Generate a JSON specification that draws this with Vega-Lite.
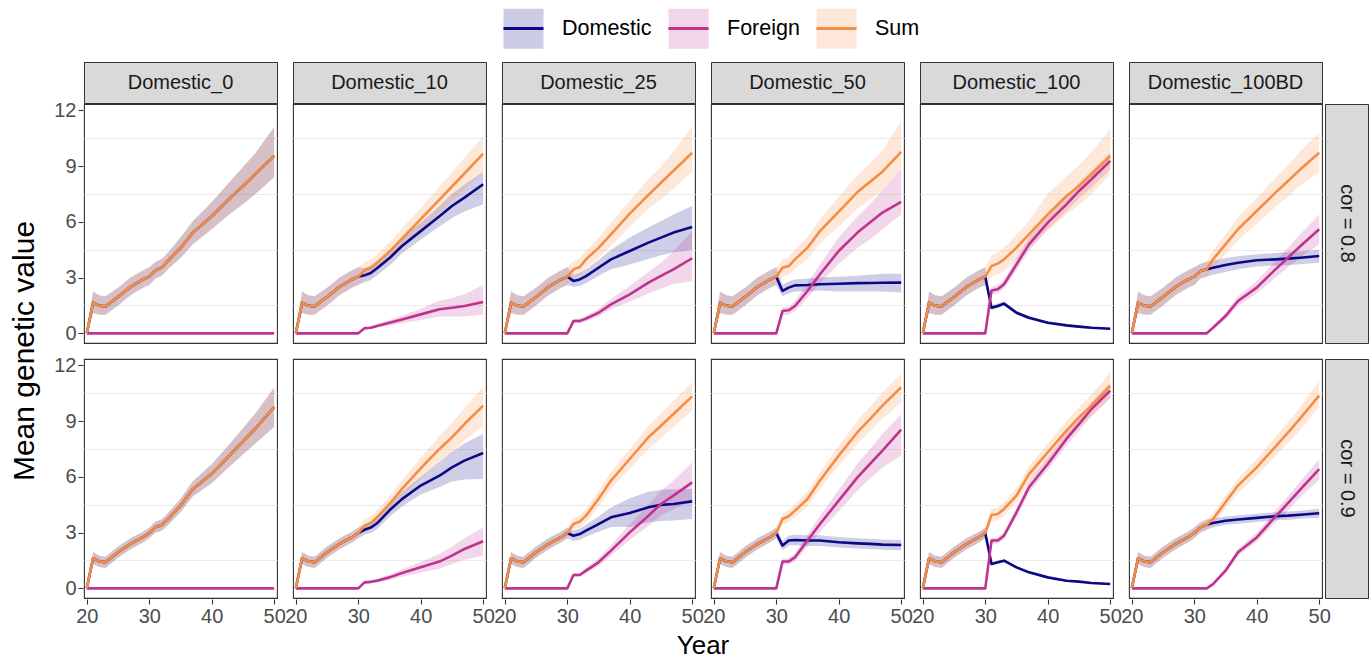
{
"$schema": "https://vega.github.io/schema/vega-lite/v6.json",
"background": "white",
"padding": {"left": 9, "top": 7, "right": 2, "bottom": 0},
"config": {
  "font": "Liberation Sans",
  "view": {"stroke": "#333333", "strokeWidth": 1.1},
  "axis": {"domain": false, "grid": false, "tickColor": "#333333", "tickSize": 5, "tickWidth": 1.1, "labelColor": "#4d4d4d", "labelFontSize": 20, "labelPadding": 2, "title": null}
},
"datasets": {"m": [
{"c":"Domestic_0","r":"cor = 0.8","t":20,"d":0,"dl":0,"dh":0,"f":0,"fl":0,"fh":0,"s":0,"sl":0,"sh":0},
{"c":"Domestic_0","r":"cor = 0.8","t":21,"d":1.65,"dl":1.1,"dh":2.25,"f":0,"fl":0,"fh":0,"s":1.65,"sl":1.1,"sh":2.25},
{"c":"Domestic_0","r":"cor = 0.8","t":22,"d":1.48,"dl":1.0,"dh":2.05,"f":0,"fl":0,"fh":0,"s":1.48,"sl":1.0,"sh":2.05},
{"c":"Domestic_0","r":"cor = 0.8","t":23,"d":1.45,"dl":1.0,"dh":2.0,"f":0,"fl":0,"fh":0,"s":1.45,"sl":1.0,"sh":2.0},
{"c":"Domestic_0","r":"cor = 0.8","t":25,"d":1.96,"dl":1.5,"dh":2.45,"f":0,"fl":0,"fh":0,"s":1.96,"sl":1.5,"sh":2.45},
{"c":"Domestic_0","r":"cor = 0.8","t":27,"d":2.5,"dl":2.05,"dh":3.0,"f":0,"fl":0,"fh":0,"s":2.5,"sl":2.05,"sh":3.0},
{"c":"Domestic_0","r":"cor = 0.8","t":29,"d":2.9,"dl":2.45,"dh":3.4,"f":0,"fl":0,"fh":0,"s":2.9,"sl":2.45,"sh":3.4},
{"c":"Domestic_0","r":"cor = 0.8","t":30,"d":3.05,"dl":2.6,"dh":3.55,"f":0,"fl":0,"fh":0,"s":3.05,"sl":2.6,"sh":3.55},
{"c":"Domestic_0","r":"cor = 0.8","t":31,"d":3.39,"dl":2.95,"dh":3.85,"f":0,"fl":0,"fh":0,"s":3.39,"sl":2.95,"sh":3.85},
{"c":"Domestic_0","r":"cor = 0.8","t":32,"d":3.54,"dl":3.1,"dh":4.0,"f":0,"fl":0,"fh":0,"s":3.54,"sl":3.1,"sh":4.0},
{"c":"Domestic_0","r":"cor = 0.8","t":33,"d":3.9,"dl":3.45,"dh":4.35,"f":0,"fl":0,"fh":0,"s":3.9,"sl":3.45,"sh":4.35},
{"c":"Domestic_0","r":"cor = 0.8","t":35,"d":4.6,"dl":4.05,"dh":5.15,"f":0,"fl":0,"fh":0,"s":4.6,"sl":4.05,"sh":5.15},
{"c":"Domestic_0","r":"cor = 0.8","t":37,"d":5.42,"dl":4.8,"dh":6.05,"f":0,"fl":0,"fh":0,"s":5.42,"sl":4.8,"sh":6.05},
{"c":"Domestic_0","r":"cor = 0.8","t":40,"d":6.3,"dl":5.6,"dh":7.05,"f":0,"fl":0,"fh":0,"s":6.3,"sl":5.6,"sh":7.05},
{"c":"Domestic_0","r":"cor = 0.8","t":43,"d":7.3,"dl":6.45,"dh":8.2,"f":0,"fl":0,"fh":0,"s":7.3,"sl":6.45,"sh":8.2},
{"c":"Domestic_0","r":"cor = 0.8","t":45,"d":7.92,"dl":6.95,"dh":8.95,"f":0,"fl":0,"fh":0,"s":7.92,"sl":6.95,"sh":8.95},
{"c":"Domestic_0","r":"cor = 0.8","t":47,"d":8.58,"dl":7.5,"dh":9.7,"f":0,"fl":0,"fh":0,"s":8.58,"sl":7.5,"sh":9.7},
{"c":"Domestic_0","r":"cor = 0.8","t":50,"d":9.55,"dl":8.4,"dh":11.1,"f":0,"fl":0,"fh":0,"s":9.55,"sl":8.4,"sh":11.1},

{"c":"Domestic_0","r":"cor = 0.9","t":20,"d":0,"dl":0,"dh":0,"f":0,"fl":0,"fh":0,"s":0,"sl":0,"sh":0},
{"c":"Domestic_0","r":"cor = 0.9","t":21,"d":1.62,"dl":1.3,"dh":1.95,"f":0,"fl":0,"fh":0,"s":1.62,"sl":1.3,"sh":1.95},
{"c":"Domestic_0","r":"cor = 0.9","t":22,"d":1.45,"dl":1.15,"dh":1.75,"f":0,"fl":0,"fh":0,"s":1.45,"sl":1.15,"sh":1.75},
{"c":"Domestic_0","r":"cor = 0.9","t":23,"d":1.4,"dl":1.1,"dh":1.7,"f":0,"fl":0,"fh":0,"s":1.4,"sl":1.1,"sh":1.7},
{"c":"Domestic_0","r":"cor = 0.9","t":25,"d":1.94,"dl":1.65,"dh":2.25,"f":0,"fl":0,"fh":0,"s":1.94,"sl":1.65,"sh":2.25},
{"c":"Domestic_0","r":"cor = 0.9","t":27,"d":2.39,"dl":2.1,"dh":2.7,"f":0,"fl":0,"fh":0,"s":2.39,"sl":2.1,"sh":2.7},
{"c":"Domestic_0","r":"cor = 0.9","t":29,"d":2.75,"dl":2.47,"dh":3.05,"f":0,"fl":0,"fh":0,"s":2.75,"sl":2.47,"sh":3.05},
{"c":"Domestic_0","r":"cor = 0.9","t":30,"d":2.98,"dl":2.7,"dh":3.27,"f":0,"fl":0,"fh":0,"s":2.98,"sl":2.7,"sh":3.27},
{"c":"Domestic_0","r":"cor = 0.9","t":31,"d":3.29,"dl":2.99,"dh":3.6,"f":0,"fl":0,"fh":0,"s":3.29,"sl":2.99,"sh":3.6},
{"c":"Domestic_0","r":"cor = 0.9","t":32,"d":3.41,"dl":3.1,"dh":3.72,"f":0,"fl":0,"fh":0,"s":3.41,"sl":3.1,"sh":3.72},
{"c":"Domestic_0","r":"cor = 0.9","t":33,"d":3.73,"dl":3.4,"dh":4.06,"f":0,"fl":0,"fh":0,"s":3.73,"sl":3.4,"sh":4.06},
{"c":"Domestic_0","r":"cor = 0.9","t":35,"d":4.45,"dl":4.1,"dh":4.82,"f":0,"fl":0,"fh":0,"s":4.45,"sl":4.1,"sh":4.82},
{"c":"Domestic_0","r":"cor = 0.9","t":37,"d":5.35,"dl":4.95,"dh":5.77,"f":0,"fl":0,"fh":0,"s":5.35,"sl":4.95,"sh":5.77},
{"c":"Domestic_0","r":"cor = 0.9","t":40,"d":6.16,"dl":5.66,"dh":6.68,"f":0,"fl":0,"fh":0,"s":6.16,"sl":5.66,"sh":6.68},
{"c":"Domestic_0","r":"cor = 0.9","t":43,"d":7.2,"dl":6.6,"dh":7.82,"f":0,"fl":0,"fh":0,"s":7.2,"sl":6.6,"sh":7.82},
{"c":"Domestic_0","r":"cor = 0.9","t":45,"d":7.9,"dl":7.2,"dh":8.62,"f":0,"fl":0,"fh":0,"s":7.9,"sl":7.2,"sh":8.62},
{"c":"Domestic_0","r":"cor = 0.9","t":47,"d":8.6,"dl":7.8,"dh":9.42,"f":0,"fl":0,"fh":0,"s":8.6,"sl":7.8,"sh":9.42},
{"c":"Domestic_0","r":"cor = 0.9","t":50,"d":9.75,"dl":8.7,"dh":10.8,"f":0,"fl":0,"fh":0,"s":9.75,"sl":8.7,"sh":10.8},

{"c":"Domestic_10","r":"cor = 0.8","t":20,"d":0,"dl":0,"dh":0,"f":0,"fl":0,"fh":0,"s":0,"sl":0,"sh":0},
{"c":"Domestic_10","r":"cor = 0.8","t":21,"d":1.65,"dl":1.1,"dh":2.25,"f":0,"fl":0,"fh":0,"s":1.65,"sl":1.1,"sh":2.25},
{"c":"Domestic_10","r":"cor = 0.8","t":22,"d":1.48,"dl":1.0,"dh":2.05,"f":0,"fl":0,"fh":0,"s":1.48,"sl":1.0,"sh":2.05},
{"c":"Domestic_10","r":"cor = 0.8","t":23,"d":1.45,"dl":1.0,"dh":2.0,"f":0,"fl":0,"fh":0,"s":1.45,"sl":1.0,"sh":2.0},
{"c":"Domestic_10","r":"cor = 0.8","t":25,"d":1.96,"dl":1.5,"dh":2.45,"f":0,"fl":0,"fh":0,"s":1.96,"sl":1.5,"sh":2.45},
{"c":"Domestic_10","r":"cor = 0.8","t":27,"d":2.5,"dl":2.05,"dh":3.0,"f":0,"fl":0,"fh":0,"s":2.5,"sl":2.05,"sh":3.0},
{"c":"Domestic_10","r":"cor = 0.8","t":29,"d":2.9,"dl":2.45,"dh":3.4,"f":0,"fl":0,"fh":0,"s":2.9,"sl":2.45,"sh":3.4},
{"c":"Domestic_10","r":"cor = 0.8","t":30,"d":3.05,"dl":2.6,"dh":3.55,"f":0,"fl":0,"fh":0,"s":3.05,"sl":2.6,"sh":3.55},
{"c":"Domestic_10","r":"cor = 0.8","t":31,"d":3.12,"dl":2.75,"dh":3.5,"f":0.27,"fl":0.2,"fh":0.35,"s":3.39,"sl":2.95,"sh":3.85},
{"c":"Domestic_10","r":"cor = 0.8","t":32,"d":3.25,"dl":2.87,"dh":3.65,"f":0.3,"fl":0.22,"fh":0.38,"s":3.52,"sl":3.07,"sh":3.97},
{"c":"Domestic_10","r":"cor = 0.8","t":33,"d":3.5,"dl":3.12,"dh":3.88,"f":0.4,"fl":0.3,"fh":0.5,"s":3.8,"sl":3.35,"sh":4.25},
{"c":"Domestic_10","r":"cor = 0.8","t":35,"d":4.05,"dl":3.65,"dh":4.45,"f":0.57,"fl":0.42,"fh":0.72,"s":4.4,"sl":3.9,"sh":4.9},
{"c":"Domestic_10","r":"cor = 0.8","t":37,"d":4.7,"dl":4.3,"dh":5.15,"f":0.75,"fl":0.55,"fh":0.95,"s":5.1,"sl":4.55,"sh":5.65},
{"c":"Domestic_10","r":"cor = 0.8","t":40,"d":5.5,"dl":5.05,"dh":5.95,"f":1.02,"fl":0.72,"fh":1.32,"s":6.15,"sl":5.55,"sh":6.75},
{"c":"Domestic_10","r":"cor = 0.8","t":43,"d":6.3,"dl":5.75,"dh":6.85,"f":1.3,"fl":0.9,"fh":1.75,"s":7.2,"sl":6.5,"sh":7.9},
{"c":"Domestic_10","r":"cor = 0.8","t":45,"d":6.85,"dl":6.2,"dh":7.5,"f":1.38,"fl":0.9,"fh":1.9,"s":7.9,"sl":7.1,"sh":8.65},
{"c":"Domestic_10","r":"cor = 0.8","t":47,"d":7.3,"dl":6.55,"dh":8.0,"f":1.47,"fl":0.9,"fh":2.1,"s":8.6,"sl":7.75,"sh":9.45},
{"c":"Domestic_10","r":"cor = 0.8","t":50,"d":8.02,"dl":6.95,"dh":8.7,"f":1.69,"fl":1.0,"fh":2.6,"s":9.67,"sl":8.7,"sh":10.6},

{"c":"Domestic_10","r":"cor = 0.9","t":20,"d":0,"dl":0,"dh":0,"f":0,"fl":0,"fh":0,"s":0,"sl":0,"sh":0},
{"c":"Domestic_10","r":"cor = 0.9","t":21,"d":1.62,"dl":1.3,"dh":1.95,"f":0,"fl":0,"fh":0,"s":1.62,"sl":1.3,"sh":1.95},
{"c":"Domestic_10","r":"cor = 0.9","t":22,"d":1.45,"dl":1.15,"dh":1.75,"f":0,"fl":0,"fh":0,"s":1.45,"sl":1.15,"sh":1.75},
{"c":"Domestic_10","r":"cor = 0.9","t":23,"d":1.4,"dl":1.1,"dh":1.7,"f":0,"fl":0,"fh":0,"s":1.4,"sl":1.1,"sh":1.7},
{"c":"Domestic_10","r":"cor = 0.9","t":25,"d":1.94,"dl":1.65,"dh":2.25,"f":0,"fl":0,"fh":0,"s":1.94,"sl":1.65,"sh":2.25},
{"c":"Domestic_10","r":"cor = 0.9","t":27,"d":2.39,"dl":2.1,"dh":2.7,"f":0,"fl":0,"fh":0,"s":2.39,"sl":2.1,"sh":2.7},
{"c":"Domestic_10","r":"cor = 0.9","t":29,"d":2.75,"dl":2.47,"dh":3.05,"f":0,"fl":0,"fh":0,"s":2.75,"sl":2.47,"sh":3.05},
{"c":"Domestic_10","r":"cor = 0.9","t":30,"d":2.98,"dl":2.7,"dh":3.27,"f":0,"fl":0,"fh":0,"s":2.98,"sl":2.7,"sh":3.27},
{"c":"Domestic_10","r":"cor = 0.9","t":31,"d":3.15,"dl":2.88,"dh":3.42,"f":0.32,"fl":0.25,"fh":0.39,"s":3.37,"sl":3.05,"sh":3.7},
{"c":"Domestic_10","r":"cor = 0.9","t":32,"d":3.27,"dl":2.98,"dh":3.56,"f":0.35,"fl":0.27,"fh":0.43,"s":3.52,"sl":3.18,"sh":3.86},
{"c":"Domestic_10","r":"cor = 0.9","t":33,"d":3.5,"dl":3.18,"dh":3.82,"f":0.41,"fl":0.31,"fh":0.51,"s":3.82,"sl":3.45,"sh":4.2},
{"c":"Domestic_10","r":"cor = 0.9","t":35,"d":4.2,"dl":3.85,"dh":4.55,"f":0.59,"fl":0.45,"fh":0.73,"s":4.54,"sl":4.12,"sh":4.96},
{"c":"Domestic_10","r":"cor = 0.9","t":37,"d":4.8,"dl":4.4,"dh":5.2,"f":0.83,"fl":0.63,"fh":1.03,"s":5.35,"sl":4.88,"sh":5.82},
{"c":"Domestic_10","r":"cor = 0.9","t":40,"d":5.53,"dl":5.05,"dh":6.0,"f":1.13,"fl":0.85,"fh":1.42,"s":6.46,"sl":5.9,"sh":7.02},
{"c":"Domestic_10","r":"cor = 0.9","t":43,"d":6.06,"dl":5.45,"dh":6.8,"f":1.44,"fl":1.05,"fh":1.85,"s":7.5,"sl":6.8,"sh":8.2},
{"c":"Domestic_10","r":"cor = 0.9","t":45,"d":6.51,"dl":5.75,"dh":7.35,"f":1.76,"fl":1.3,"fh":2.25,"s":8.13,"sl":7.35,"sh":8.9},
{"c":"Domestic_10","r":"cor = 0.9","t":47,"d":6.87,"dl":5.85,"dh":7.8,"f":2.12,"fl":1.55,"fh":2.7,"s":8.84,"sl":7.95,"sh":9.7},
{"c":"Domestic_10","r":"cor = 0.9","t":50,"d":7.28,"dl":5.88,"dh":8.3,"f":2.53,"fl":1.76,"fh":3.28,"s":9.83,"sl":8.75,"sh":10.82},

{"c":"Domestic_25","r":"cor = 0.8","t":20,"d":0,"dl":0,"dh":0,"f":0,"fl":0,"fh":0,"s":0,"sl":0,"sh":0},
{"c":"Domestic_25","r":"cor = 0.8","t":21,"d":1.65,"dl":1.1,"dh":2.25,"f":0,"fl":0,"fh":0,"s":1.65,"sl":1.1,"sh":2.25},
{"c":"Domestic_25","r":"cor = 0.8","t":22,"d":1.48,"dl":1.0,"dh":2.05,"f":0,"fl":0,"fh":0,"s":1.48,"sl":1.0,"sh":2.05},
{"c":"Domestic_25","r":"cor = 0.8","t":23,"d":1.45,"dl":1.0,"dh":2.0,"f":0,"fl":0,"fh":0,"s":1.45,"sl":1.0,"sh":2.0},
{"c":"Domestic_25","r":"cor = 0.8","t":25,"d":1.96,"dl":1.5,"dh":2.45,"f":0,"fl":0,"fh":0,"s":1.96,"sl":1.5,"sh":2.45},
{"c":"Domestic_25","r":"cor = 0.8","t":27,"d":2.5,"dl":2.05,"dh":3.0,"f":0,"fl":0,"fh":0,"s":2.5,"sl":2.05,"sh":3.0},
{"c":"Domestic_25","r":"cor = 0.8","t":29,"d":2.9,"dl":2.45,"dh":3.4,"f":0,"fl":0,"fh":0,"s":2.9,"sl":2.45,"sh":3.4},
{"c":"Domestic_25","r":"cor = 0.8","t":30,"d":3.05,"dl":2.6,"dh":3.55,"f":0,"fl":0,"fh":0,"s":3.05,"sl":2.6,"sh":3.55},
{"c":"Domestic_25","r":"cor = 0.8","t":31,"d":2.82,"dl":2.5,"dh":3.15,"f":0.66,"fl":0.55,"fh":0.77,"s":3.44,"sl":3.0,"sh":3.9},
{"c":"Domestic_25","r":"cor = 0.8","t":32,"d":2.9,"dl":2.55,"dh":3.25,"f":0.66,"fl":0.55,"fh":0.78,"s":3.57,"sl":3.1,"sh":4.05},
{"c":"Domestic_25","r":"cor = 0.8","t":33,"d":3.08,"dl":2.7,"dh":3.45,"f":0.79,"fl":0.65,"fh":0.93,"s":3.98,"sl":3.5,"sh":4.45},
{"c":"Domestic_25","r":"cor = 0.8","t":35,"d":3.53,"dl":3.1,"dh":3.95,"f":1.11,"fl":0.9,"fh":1.32,"s":4.6,"sl":4.05,"sh":5.15},
{"c":"Domestic_25","r":"cor = 0.8","t":37,"d":3.98,"dl":3.45,"dh":4.5,"f":1.56,"fl":1.3,"fh":1.85,"s":5.33,"sl":4.7,"sh":5.95},
{"c":"Domestic_25","r":"cor = 0.8","t":40,"d":4.43,"dl":3.7,"dh":5.15,"f":2.1,"fl":1.7,"fh":2.55,"s":6.44,"sl":5.75,"sh":7.15},
{"c":"Domestic_25","r":"cor = 0.8","t":43,"d":4.88,"dl":4.0,"dh":5.7,"f":2.73,"fl":2.15,"fh":3.3,"s":7.45,"sl":6.7,"sh":8.3},
{"c":"Domestic_25","r":"cor = 0.8","t":45,"d":5.15,"dl":4.2,"dh":6.05,"f":3.09,"fl":2.4,"fh":3.8,"s":8.1,"sl":7.2,"sh":8.95},
{"c":"Domestic_25","r":"cor = 0.8","t":47,"d":5.42,"dl":4.35,"dh":6.4,"f":3.44,"fl":2.65,"fh":4.4,"s":8.75,"sl":7.8,"sh":9.8},
{"c":"Domestic_25","r":"cor = 0.8","t":50,"d":5.72,"dl":4.5,"dh":6.85,"f":4.04,"fl":2.8,"fh":5.5,"s":9.72,"sl":8.7,"sh":11.16},

{"c":"Domestic_25","r":"cor = 0.9","t":20,"d":0,"dl":0,"dh":0,"f":0,"fl":0,"fh":0,"s":0,"sl":0,"sh":0},
{"c":"Domestic_25","r":"cor = 0.9","t":21,"d":1.62,"dl":1.3,"dh":1.95,"f":0,"fl":0,"fh":0,"s":1.62,"sl":1.3,"sh":1.95},
{"c":"Domestic_25","r":"cor = 0.9","t":22,"d":1.45,"dl":1.15,"dh":1.75,"f":0,"fl":0,"fh":0,"s":1.45,"sl":1.15,"sh":1.75},
{"c":"Domestic_25","r":"cor = 0.9","t":23,"d":1.4,"dl":1.1,"dh":1.7,"f":0,"fl":0,"fh":0,"s":1.4,"sl":1.1,"sh":1.7},
{"c":"Domestic_25","r":"cor = 0.9","t":25,"d":1.94,"dl":1.65,"dh":2.25,"f":0,"fl":0,"fh":0,"s":1.94,"sl":1.65,"sh":2.25},
{"c":"Domestic_25","r":"cor = 0.9","t":27,"d":2.39,"dl":2.1,"dh":2.7,"f":0,"fl":0,"fh":0,"s":2.39,"sl":2.1,"sh":2.7},
{"c":"Domestic_25","r":"cor = 0.9","t":29,"d":2.75,"dl":2.47,"dh":3.05,"f":0,"fl":0,"fh":0,"s":2.75,"sl":2.47,"sh":3.05},
{"c":"Domestic_25","r":"cor = 0.9","t":30,"d":2.98,"dl":2.7,"dh":3.27,"f":0,"fl":0,"fh":0,"s":2.98,"sl":2.7,"sh":3.27},
{"c":"Domestic_25","r":"cor = 0.9","t":31,"d":2.83,"dl":2.55,"dh":3.1,"f":0.72,"fl":0.62,"fh":0.82,"s":3.46,"sl":3.15,"sh":3.78},
{"c":"Domestic_25","r":"cor = 0.9","t":32,"d":2.92,"dl":2.62,"dh":3.22,"f":0.72,"fl":0.62,"fh":0.83,"s":3.59,"sl":3.26,"sh":3.92},
{"c":"Domestic_25","r":"cor = 0.9","t":33,"d":3.1,"dl":2.78,"dh":3.42,"f":0.95,"fl":0.82,"fh":1.08,"s":3.91,"sl":3.55,"sh":4.27},
{"c":"Domestic_25","r":"cor = 0.9","t":35,"d":3.46,"dl":3.05,"dh":3.87,"f":1.4,"fl":1.2,"fh":1.6,"s":4.81,"sl":4.4,"sh":5.22},
{"c":"Domestic_25","r":"cor = 0.9","t":37,"d":3.82,"dl":3.3,"dh":4.35,"f":2.03,"fl":1.75,"fh":2.32,"s":5.8,"sl":5.33,"sh":6.27},
{"c":"Domestic_25","r":"cor = 0.9","t":40,"d":4.05,"dl":3.3,"dh":4.85,"f":3.01,"fl":2.6,"fh":3.45,"s":6.96,"sl":6.43,"sh":7.5},
{"c":"Domestic_25","r":"cor = 0.9","t":43,"d":4.36,"dl":3.55,"dh":5.2,"f":3.91,"fl":3.35,"fh":4.5,"s":8.13,"sl":7.5,"sh":8.75},
{"c":"Domestic_25","r":"cor = 0.9","t":45,"d":4.49,"dl":3.62,"dh":5.3,"f":4.54,"fl":3.9,"fh":5.25,"s":8.75,"sl":8.08,"sh":9.42},
{"c":"Domestic_25","r":"cor = 0.9","t":47,"d":4.54,"dl":3.65,"dh":5.33,"f":4.99,"fl":4.25,"fh":5.8,"s":9.38,"sl":8.68,"sh":10.08},
{"c":"Domestic_25","r":"cor = 0.9","t":50,"d":4.68,"dl":3.73,"dh":5.35,"f":5.7,"fl":4.72,"fh":6.78,"s":10.33,"sl":9.56,"sh":11.09},

{"c":"Domestic_50","r":"cor = 0.8","t":20,"d":0,"dl":0,"dh":0,"f":0,"fl":0,"fh":0,"s":0,"sl":0,"sh":0},
{"c":"Domestic_50","r":"cor = 0.8","t":21,"d":1.65,"dl":1.1,"dh":2.25,"f":0,"fl":0,"fh":0,"s":1.65,"sl":1.1,"sh":2.25},
{"c":"Domestic_50","r":"cor = 0.8","t":22,"d":1.48,"dl":1.0,"dh":2.05,"f":0,"fl":0,"fh":0,"s":1.48,"sl":1.0,"sh":2.05},
{"c":"Domestic_50","r":"cor = 0.8","t":23,"d":1.45,"dl":1.0,"dh":2.0,"f":0,"fl":0,"fh":0,"s":1.45,"sl":1.0,"sh":2.0},
{"c":"Domestic_50","r":"cor = 0.8","t":25,"d":1.96,"dl":1.5,"dh":2.45,"f":0,"fl":0,"fh":0,"s":1.96,"sl":1.5,"sh":2.45},
{"c":"Domestic_50","r":"cor = 0.8","t":27,"d":2.5,"dl":2.05,"dh":3.0,"f":0,"fl":0,"fh":0,"s":2.5,"sl":2.05,"sh":3.0},
{"c":"Domestic_50","r":"cor = 0.8","t":29,"d":2.9,"dl":2.45,"dh":3.4,"f":0,"fl":0,"fh":0,"s":2.9,"sl":2.45,"sh":3.4},
{"c":"Domestic_50","r":"cor = 0.8","t":30,"d":3.05,"dl":2.6,"dh":3.55,"f":0,"fl":0,"fh":0,"s":3.05,"sl":2.6,"sh":3.55},
{"c":"Domestic_50","r":"cor = 0.8","t":31,"d":2.28,"dl":2.0,"dh":2.6,"f":1.2,"fl":1.0,"fh":1.4,"s":3.53,"sl":3.05,"sh":4.0},
{"c":"Domestic_50","r":"cor = 0.8","t":32,"d":2.46,"dl":2.15,"dh":2.8,"f":1.24,"fl":1.0,"fh":1.45,"s":3.62,"sl":3.15,"sh":4.1},
{"c":"Domestic_50","r":"cor = 0.8","t":33,"d":2.58,"dl":2.25,"dh":2.9,"f":1.47,"fl":1.2,"fh":1.75,"s":3.98,"sl":3.45,"sh":4.5},
{"c":"Domestic_50","r":"cor = 0.8","t":35,"d":2.6,"dl":2.25,"dh":2.95,"f":2.28,"fl":1.9,"fh":2.7,"s":4.61,"sl":4.0,"sh":5.2},
{"c":"Domestic_50","r":"cor = 0.8","t":37,"d":2.64,"dl":2.3,"dh":3.0,"f":3.18,"fl":2.7,"fh":3.7,"s":5.5,"sl":4.85,"sh":6.15},
{"c":"Domestic_50","r":"cor = 0.8","t":40,"d":2.67,"dl":2.25,"dh":3.05,"f":4.43,"fl":3.75,"fh":5.15,"s":6.55,"sl":5.75,"sh":7.35},
{"c":"Domestic_50","r":"cor = 0.8","t":43,"d":2.7,"dl":2.25,"dh":3.1,"f":5.42,"fl":4.6,"fh":6.3,"s":7.6,"sl":6.7,"sh":8.5},
{"c":"Domestic_50","r":"cor = 0.8","t":45,"d":2.71,"dl":2.25,"dh":3.15,"f":5.96,"fl":5.05,"fh":6.95,"s":8.15,"sl":7.2,"sh":9.15},
{"c":"Domestic_50","r":"cor = 0.8","t":47,"d":2.72,"dl":2.25,"dh":3.2,"f":6.5,"fl":5.6,"fh":7.7,"s":8.7,"sl":7.7,"sh":9.85},
{"c":"Domestic_50","r":"cor = 0.8","t":50,"d":2.73,"dl":2.2,"dh":3.2,"f":7.07,"fl":6.4,"fh":8.83,"s":9.76,"sl":8.83,"sh":11.43},

{"c":"Domestic_50","r":"cor = 0.9","t":20,"d":0,"dl":0,"dh":0,"f":0,"fl":0,"fh":0,"s":0,"sl":0,"sh":0},
{"c":"Domestic_50","r":"cor = 0.9","t":21,"d":1.62,"dl":1.3,"dh":1.95,"f":0,"fl":0,"fh":0,"s":1.62,"sl":1.3,"sh":1.95},
{"c":"Domestic_50","r":"cor = 0.9","t":22,"d":1.45,"dl":1.15,"dh":1.75,"f":0,"fl":0,"fh":0,"s":1.45,"sl":1.15,"sh":1.75},
{"c":"Domestic_50","r":"cor = 0.9","t":23,"d":1.4,"dl":1.1,"dh":1.7,"f":0,"fl":0,"fh":0,"s":1.4,"sl":1.1,"sh":1.7},
{"c":"Domestic_50","r":"cor = 0.9","t":25,"d":1.94,"dl":1.65,"dh":2.25,"f":0,"fl":0,"fh":0,"s":1.94,"sl":1.65,"sh":2.25},
{"c":"Domestic_50","r":"cor = 0.9","t":27,"d":2.39,"dl":2.1,"dh":2.7,"f":0,"fl":0,"fh":0,"s":2.39,"sl":2.1,"sh":2.7},
{"c":"Domestic_50","r":"cor = 0.9","t":29,"d":2.75,"dl":2.47,"dh":3.05,"f":0,"fl":0,"fh":0,"s":2.75,"sl":2.47,"sh":3.05},
{"c":"Domestic_50","r":"cor = 0.9","t":30,"d":2.98,"dl":2.7,"dh":3.27,"f":0,"fl":0,"fh":0,"s":2.98,"sl":2.7,"sh":3.27},
{"c":"Domestic_50","r":"cor = 0.9","t":31,"d":2.3,"dl":2.05,"dh":2.55,"f":1.44,"fl":1.28,"fh":1.6,"s":3.73,"sl":3.42,"sh":4.04},
{"c":"Domestic_50","r":"cor = 0.9","t":32,"d":2.57,"dl":2.3,"dh":2.84,"f":1.45,"fl":1.28,"fh":1.62,"s":3.88,"sl":3.55,"sh":4.21},
{"c":"Domestic_50","r":"cor = 0.9","t":33,"d":2.6,"dl":2.32,"dh":2.88,"f":1.67,"fl":1.46,"fh":1.88,"s":4.18,"sl":3.83,"sh":4.53},
{"c":"Domestic_50","r":"cor = 0.9","t":35,"d":2.57,"dl":2.28,"dh":2.86,"f":2.57,"fl":2.25,"fh":2.9,"s":4.81,"sl":4.42,"sh":5.2},
{"c":"Domestic_50","r":"cor = 0.9","t":37,"d":2.57,"dl":2.28,"dh":2.86,"f":3.46,"fl":3.05,"fh":3.9,"s":5.8,"sl":5.35,"sh":6.25},
{"c":"Domestic_50","r":"cor = 0.9","t":40,"d":2.48,"dl":2.2,"dh":2.76,"f":4.72,"fl":4.15,"fh":5.3,"s":7.14,"sl":6.6,"sh":7.68},
{"c":"Domestic_50","r":"cor = 0.9","t":43,"d":2.42,"dl":2.14,"dh":2.7,"f":5.97,"fl":5.25,"fh":6.7,"s":8.4,"sl":7.78,"sh":9.02},
{"c":"Domestic_50","r":"cor = 0.9","t":45,"d":2.39,"dl":2.11,"dh":2.67,"f":6.69,"fl":5.9,"fh":7.5,"s":9.11,"sl":8.45,"sh":9.77},
{"c":"Domestic_50","r":"cor = 0.9","t":47,"d":2.35,"dl":2.07,"dh":2.63,"f":7.41,"fl":6.5,"fh":8.3,"s":9.83,"sl":9.12,"sh":10.54},
{"c":"Domestic_50","r":"cor = 0.9","t":50,"d":2.33,"dl":2.05,"dh":2.6,"f":8.54,"fl":7.14,"fh":9.38,"s":10.82,"sl":10.0,"sh":11.54},

{"c":"Domestic_100","r":"cor = 0.8","t":20,"d":0,"dl":0,"dh":0,"f":0,"fl":0,"fh":0,"s":0,"sl":0,"sh":0},
{"c":"Domestic_100","r":"cor = 0.8","t":21,"d":1.65,"dl":1.1,"dh":2.25,"f":0,"fl":0,"fh":0,"s":1.65,"sl":1.1,"sh":2.25},
{"c":"Domestic_100","r":"cor = 0.8","t":22,"d":1.48,"dl":1.0,"dh":2.05,"f":0,"fl":0,"fh":0,"s":1.48,"sl":1.0,"sh":2.05},
{"c":"Domestic_100","r":"cor = 0.8","t":23,"d":1.45,"dl":1.0,"dh":2.0,"f":0,"fl":0,"fh":0,"s":1.45,"sl":1.0,"sh":2.0},
{"c":"Domestic_100","r":"cor = 0.8","t":25,"d":1.96,"dl":1.5,"dh":2.45,"f":0,"fl":0,"fh":0,"s":1.96,"sl":1.5,"sh":2.45},
{"c":"Domestic_100","r":"cor = 0.8","t":27,"d":2.5,"dl":2.05,"dh":3.0,"f":0,"fl":0,"fh":0,"s":2.5,"sl":2.05,"sh":3.0},
{"c":"Domestic_100","r":"cor = 0.8","t":29,"d":2.9,"dl":2.45,"dh":3.4,"f":0,"fl":0,"fh":0,"s":2.9,"sl":2.45,"sh":3.4},
{"c":"Domestic_100","r":"cor = 0.8","t":30,"d":3.05,"dl":2.6,"dh":3.55,"f":0,"fl":0,"fh":0,"s":3.05,"sl":2.6,"sh":3.55},
{"c":"Domestic_100","r":"cor = 0.8","t":31,"d":1.38,"dl":1.25,"dh":1.5,"f":2.31,"fl":2.1,"fh":2.5,"s":3.62,"sl":3.05,"sh":4.2},
{"c":"Domestic_100","r":"cor = 0.8","t":32,"d":1.47,"dl":1.35,"dh":1.6,"f":2.37,"fl":2.15,"fh":2.6,"s":3.75,"sl":3.15,"sh":4.35},
{"c":"Domestic_100","r":"cor = 0.8","t":33,"d":1.6,"dl":1.48,"dh":1.72,"f":2.64,"fl":2.4,"fh":2.9,"s":3.98,"sl":3.35,"sh":4.6},
{"c":"Domestic_100","r":"cor = 0.8","t":35,"d":1.11,"dl":1.0,"dh":1.22,"f":3.71,"fl":3.4,"fh":4.05,"s":4.61,"sl":3.95,"sh":5.3},
{"c":"Domestic_100","r":"cor = 0.8","t":37,"d":0.84,"dl":0.75,"dh":0.93,"f":4.79,"fl":4.45,"fh":5.15,"s":5.33,"sl":4.6,"sh":6.05},
{"c":"Domestic_100","r":"cor = 0.8","t":40,"d":0.57,"dl":0.5,"dh":0.65,"f":5.96,"fl":5.6,"fh":6.35,"s":6.4,"sl":5.5,"sh":7.5},
{"c":"Domestic_100","r":"cor = 0.8","t":43,"d":0.43,"dl":0.37,"dh":0.5,"f":6.94,"fl":6.55,"fh":7.35,"s":7.39,"sl":6.4,"sh":8.45},
{"c":"Domestic_100","r":"cor = 0.8","t":45,"d":0.36,"dl":0.3,"dh":0.42,"f":7.66,"fl":7.25,"fh":8.1,"s":7.93,"sl":6.9,"sh":9.05},
{"c":"Domestic_100","r":"cor = 0.8","t":47,"d":0.3,"dl":0.25,"dh":0.36,"f":8.29,"fl":7.85,"fh":8.75,"s":8.56,"sl":7.5,"sh":9.75},
{"c":"Domestic_100","r":"cor = 0.8","t":50,"d":0.25,"dl":0.2,"dh":0.3,"f":9.28,"fl":8.8,"fh":9.75,"s":9.54,"sl":8.56,"sh":11.0},

{"c":"Domestic_100","r":"cor = 0.9","t":20,"d":0,"dl":0,"dh":0,"f":0,"fl":0,"fh":0,"s":0,"sl":0,"sh":0},
{"c":"Domestic_100","r":"cor = 0.9","t":21,"d":1.62,"dl":1.3,"dh":1.95,"f":0,"fl":0,"fh":0,"s":1.62,"sl":1.3,"sh":1.95},
{"c":"Domestic_100","r":"cor = 0.9","t":22,"d":1.45,"dl":1.15,"dh":1.75,"f":0,"fl":0,"fh":0,"s":1.45,"sl":1.15,"sh":1.75},
{"c":"Domestic_100","r":"cor = 0.9","t":23,"d":1.4,"dl":1.1,"dh":1.7,"f":0,"fl":0,"fh":0,"s":1.4,"sl":1.1,"sh":1.7},
{"c":"Domestic_100","r":"cor = 0.9","t":25,"d":1.94,"dl":1.65,"dh":2.25,"f":0,"fl":0,"fh":0,"s":1.94,"sl":1.65,"sh":2.25},
{"c":"Domestic_100","r":"cor = 0.9","t":27,"d":2.39,"dl":2.1,"dh":2.7,"f":0,"fl":0,"fh":0,"s":2.39,"sl":2.1,"sh":2.7},
{"c":"Domestic_100","r":"cor = 0.9","t":29,"d":2.75,"dl":2.47,"dh":3.05,"f":0,"fl":0,"fh":0,"s":2.75,"sl":2.47,"sh":3.05},
{"c":"Domestic_100","r":"cor = 0.9","t":30,"d":2.98,"dl":2.7,"dh":3.27,"f":0,"fl":0,"fh":0,"s":2.98,"sl":2.7,"sh":3.27},
{"c":"Domestic_100","r":"cor = 0.9","t":31,"d":1.31,"dl":1.22,"dh":1.4,"f":2.57,"fl":2.4,"fh":2.74,"s":3.95,"sl":3.62,"sh":4.28},
{"c":"Domestic_100","r":"cor = 0.9","t":32,"d":1.4,"dl":1.31,"dh":1.49,"f":2.57,"fl":2.4,"fh":2.74,"s":4.0,"sl":3.66,"sh":4.34},
{"c":"Domestic_100","r":"cor = 0.9","t":33,"d":1.49,"dl":1.4,"dh":1.58,"f":2.83,"fl":2.64,"fh":3.02,"s":4.27,"sl":3.92,"sh":4.62},
{"c":"Domestic_100","r":"cor = 0.9","t":35,"d":1.13,"dl":1.05,"dh":1.21,"f":4.09,"fl":3.85,"fh":4.33,"s":4.99,"sl":4.6,"sh":5.38},
{"c":"Domestic_100","r":"cor = 0.9","t":37,"d":0.86,"dl":0.79,"dh":0.93,"f":5.44,"fl":5.15,"fh":5.73,"s":6.15,"sl":5.72,"sh":6.58},
{"c":"Domestic_100","r":"cor = 0.9","t":40,"d":0.59,"dl":0.53,"dh":0.65,"f":6.69,"fl":6.37,"fh":7.01,"s":7.32,"sl":6.85,"sh":7.79},
{"c":"Domestic_100","r":"cor = 0.9","t":43,"d":0.41,"dl":0.36,"dh":0.46,"f":8.04,"fl":7.7,"fh":8.38,"s":8.49,"sl":7.97,"sh":9.01},
{"c":"Domestic_100","r":"cor = 0.9","t":45,"d":0.36,"dl":0.31,"dh":0.41,"f":8.84,"fl":8.48,"fh":9.2,"s":9.2,"sl":8.65,"sh":9.75},
{"c":"Domestic_100","r":"cor = 0.9","t":47,"d":0.29,"dl":0.25,"dh":0.33,"f":9.65,"fl":9.27,"fh":10.03,"s":9.83,"sl":9.24,"sh":10.42},
{"c":"Domestic_100","r":"cor = 0.9","t":50,"d":0.23,"dl":0.19,"dh":0.27,"f":10.64,"fl":10.24,"fh":11.04,"s":10.9,"sl":10.2,"sh":11.6},

{"c":"Domestic_100BD","r":"cor = 0.8","t":20,"d":0,"dl":0,"dh":0,"f":0,"fl":0,"fh":0,"s":0,"sl":0,"sh":0},
{"c":"Domestic_100BD","r":"cor = 0.8","t":21,"d":1.65,"dl":1.1,"dh":2.25,"f":0,"fl":0,"fh":0,"s":1.65,"sl":1.1,"sh":2.25},
{"c":"Domestic_100BD","r":"cor = 0.8","t":22,"d":1.48,"dl":1.0,"dh":2.05,"f":0,"fl":0,"fh":0,"s":1.48,"sl":1.0,"sh":2.05},
{"c":"Domestic_100BD","r":"cor = 0.8","t":23,"d":1.45,"dl":1.0,"dh":2.0,"f":0,"fl":0,"fh":0,"s":1.45,"sl":1.0,"sh":2.0},
{"c":"Domestic_100BD","r":"cor = 0.8","t":25,"d":1.96,"dl":1.5,"dh":2.45,"f":0,"fl":0,"fh":0,"s":1.96,"sl":1.5,"sh":2.45},
{"c":"Domestic_100BD","r":"cor = 0.8","t":27,"d":2.5,"dl":2.05,"dh":3.0,"f":0,"fl":0,"fh":0,"s":2.5,"sl":2.05,"sh":3.0},
{"c":"Domestic_100BD","r":"cor = 0.8","t":29,"d":2.9,"dl":2.45,"dh":3.4,"f":0,"fl":0,"fh":0,"s":2.9,"sl":2.45,"sh":3.4},
{"c":"Domestic_100BD","r":"cor = 0.8","t":30,"d":3.05,"dl":2.6,"dh":3.55,"f":0,"fl":0,"fh":0,"s":3.05,"sl":2.6,"sh":3.55},
{"c":"Domestic_100BD","r":"cor = 0.8","t":31,"d":3.35,"dl":2.95,"dh":3.75,"f":0,"fl":0,"fh":0,"s":3.35,"sl":2.95,"sh":3.75},
{"c":"Domestic_100BD","r":"cor = 0.8","t":32,"d":3.45,"dl":3.05,"dh":3.85,"f":0,"fl":0,"fh":0,"s":3.45,"sl":3.05,"sh":3.85},
{"c":"Domestic_100BD","r":"cor = 0.8","t":33,"d":3.53,"dl":3.15,"dh":3.9,"f":0.3,"fl":0.2,"fh":0.4,"s":3.98,"sl":3.5,"sh":4.45},
{"c":"Domestic_100BD","r":"cor = 0.8","t":35,"d":3.68,"dl":3.3,"dh":4.05,"f":0.93,"fl":0.75,"fh":1.1,"s":4.79,"sl":4.25,"sh":5.35},
{"c":"Domestic_100BD","r":"cor = 0.8","t":37,"d":3.8,"dl":3.45,"dh":4.15,"f":1.74,"fl":1.5,"fh":2.0,"s":5.6,"sl":5.0,"sh":6.25},
{"c":"Domestic_100BD","r":"cor = 0.8","t":40,"d":3.93,"dl":3.6,"dh":4.25,"f":2.46,"fl":2.15,"fh":2.8,"s":6.58,"sl":5.9,"sh":7.3},
{"c":"Domestic_100BD","r":"cor = 0.8","t":43,"d":3.98,"dl":3.65,"dh":4.32,"f":3.44,"fl":3.0,"fh":3.9,"s":7.57,"sl":6.8,"sh":8.35},
{"c":"Domestic_100BD","r":"cor = 0.8","t":45,"d":4.02,"dl":3.68,"dh":4.37,"f":4.07,"fl":3.55,"fh":4.6,"s":8.2,"sl":7.35,"sh":9.05},
{"c":"Domestic_100BD","r":"cor = 0.8","t":47,"d":4.07,"dl":3.72,"dh":4.42,"f":4.7,"fl":4.1,"fh":5.35,"s":8.83,"sl":7.95,"sh":9.8},
{"c":"Domestic_100BD","r":"cor = 0.8","t":50,"d":4.16,"dl":3.8,"dh":4.5,"f":5.6,"fl":4.8,"fh":6.4,"s":9.72,"sl":8.65,"sh":10.8},

{"c":"Domestic_100BD","r":"cor = 0.9","t":20,"d":0,"dl":0,"dh":0,"f":0,"fl":0,"fh":0,"s":0,"sl":0,"sh":0},
{"c":"Domestic_100BD","r":"cor = 0.9","t":21,"d":1.62,"dl":1.3,"dh":1.95,"f":0,"fl":0,"fh":0,"s":1.62,"sl":1.3,"sh":1.95},
{"c":"Domestic_100BD","r":"cor = 0.9","t":22,"d":1.45,"dl":1.15,"dh":1.75,"f":0,"fl":0,"fh":0,"s":1.45,"sl":1.15,"sh":1.75},
{"c":"Domestic_100BD","r":"cor = 0.9","t":23,"d":1.4,"dl":1.1,"dh":1.7,"f":0,"fl":0,"fh":0,"s":1.4,"sl":1.1,"sh":1.7},
{"c":"Domestic_100BD","r":"cor = 0.9","t":25,"d":1.94,"dl":1.65,"dh":2.25,"f":0,"fl":0,"fh":0,"s":1.94,"sl":1.65,"sh":2.25},
{"c":"Domestic_100BD","r":"cor = 0.9","t":27,"d":2.39,"dl":2.1,"dh":2.7,"f":0,"fl":0,"fh":0,"s":2.39,"sl":2.1,"sh":2.7},
{"c":"Domestic_100BD","r":"cor = 0.9","t":29,"d":2.75,"dl":2.47,"dh":3.05,"f":0,"fl":0,"fh":0,"s":2.75,"sl":2.47,"sh":3.05},
{"c":"Domestic_100BD","r":"cor = 0.9","t":30,"d":2.98,"dl":2.7,"dh":3.27,"f":0,"fl":0,"fh":0,"s":2.98,"sl":2.7,"sh":3.27},
{"c":"Domestic_100BD","r":"cor = 0.9","t":31,"d":3.28,"dl":3.0,"dh":3.56,"f":0,"fl":0,"fh":0,"s":3.28,"sl":3.0,"sh":3.56},
{"c":"Domestic_100BD","r":"cor = 0.9","t":32,"d":3.43,"dl":3.15,"dh":3.71,"f":0,"fl":0,"fh":0,"s":3.43,"sl":3.15,"sh":3.71},
{"c":"Domestic_100BD","r":"cor = 0.9","t":33,"d":3.52,"dl":3.28,"dh":3.76,"f":0.23,"fl":0.16,"fh":0.3,"s":3.73,"sl":3.42,"sh":4.04},
{"c":"Domestic_100BD","r":"cor = 0.9","t":35,"d":3.64,"dl":3.42,"dh":3.86,"f":0.95,"fl":0.82,"fh":1.08,"s":4.63,"sl":4.28,"sh":4.98},
{"c":"Domestic_100BD","r":"cor = 0.9","t":37,"d":3.7,"dl":3.48,"dh":3.92,"f":1.94,"fl":1.75,"fh":2.13,"s":5.53,"sl":5.13,"sh":5.93},
{"c":"Domestic_100BD","r":"cor = 0.9","t":40,"d":3.79,"dl":3.57,"dh":4.01,"f":2.74,"fl":2.5,"fh":2.98,"s":6.51,"sl":6.06,"sh":6.96},
{"c":"Domestic_100BD","r":"cor = 0.9","t":43,"d":3.88,"dl":3.66,"dh":4.1,"f":3.86,"fl":3.55,"fh":4.17,"s":7.63,"sl":7.1,"sh":8.16},
{"c":"Domestic_100BD","r":"cor = 0.9","t":45,"d":3.91,"dl":3.69,"dh":4.13,"f":4.58,"fl":4.2,"fh":4.96,"s":8.38,"sl":7.8,"sh":8.96},
{"c":"Domestic_100BD","r":"cor = 0.9","t":47,"d":3.96,"dl":3.74,"dh":4.18,"f":5.33,"fl":4.9,"fh":5.76,"s":9.16,"sl":8.55,"sh":9.77},
{"c":"Domestic_100BD","r":"cor = 0.9","t":50,"d":4.04,"dl":3.8,"dh":4.28,"f":6.42,"fl":5.85,"fh":6.95,"s":10.37,"sl":9.74,"sh":11.18}
]},
"spacing": -4,
"vconcat": [
  {
    "data": {"values": [{"c":"Domestic_0"},{"c":"Domestic_10"},{"c":"Domestic_25"},{"c":"Domestic_50"},{"c":"Domestic_100"},{"c":"Domestic_100BD"}]},
    "facet": {"column": {"field": "c", "type": "nominal", "sort": ["Domestic_0","Domestic_10","Domestic_25","Domestic_50","Domestic_100","Domestic_100BD"], "header": {"title": null, "labels": false}}},
    "spacing": 14,
    "spec": {
      "width": 193, "height": 41,
      "view": {"fill": "#d9d9d9", "stroke": "#333333"},
      "mark": {"type": "text", "fontSize": 20, "color": "#1a1a1a"},
      "encoding": {"text": {"field": "c", "type": "nominal"}}
    }
  },
  {
    "bounds": "flush",
    "spacing": 1241,
    "hconcat": [
      {
        "data": {"name": "m"},
        "facet": {
          "row": {"field": "r", "type": "nominal", "sort": ["cor = 0.8","cor = 0.9"], "header": {"title": "Mean genetic value", "labels": false, "titleOrient": "left", "titleFontSize": 30, "titleFontWeight": "normal", "titleColor": "#000000", "titlePadding": 3}},
          "column": {"field": "c", "type": "nominal", "sort": ["Domestic_0","Domestic_10","Domestic_25","Domestic_50","Domestic_100","Domestic_100BD"], "header": {"title": "Year", "labels": false, "titleOrient": "bottom", "titleFontSize": 26, "titleFontWeight": "normal", "titleColor": "#000000", "titlePadding": -3}}
        },
        "spacing": {"row": 14, "column": 14},
        "spec": {
          "width": 193, "height": 239,
          "encoding": {
            "x": {"field": "t", "type": "quantitative", "scale": {"domain": [19.55, 50.45], "nice": false, "zero": false}, "axis": {"values": [20, 30, 40, 50], "format": "d", "title": null}}
          },
          "layer": [
            {"mark": {"type": "area", "opacity": 0.2},
             "encoding": {
               "y": {"field": "dl", "type": "quantitative", "scale": {"domain": [-0.52, 12.34], "nice": false, "zero": false}, "axis": {"title": null, "values": [0,1.5,3,4.5,6,7.5,9,10.5,12], "grid": true, "gridColor": "#ebebeb", "gridWidth": 1.1, "gridOpacity": {"condition": {"test": "datum.value % 3 === 0", "value": 0}, "value": 1}, "tickOpacity": {"condition": {"test": "datum.value % 3 !== 0", "value": 0}, "value": 1}, "labelExpr": "datum.value % 3 === 0 ? format(datum.value, 'd') : ''"}},
               "y2": {"field": "dh"},
               "fill": {"datum": "Domestic", "type": "nominal", "scale": {"range": ["#0d0887","#bf3390","#f68d45"]}, "legend": {"orient": "none", "legendX": 418, "legendY": -55, "direction": "horizontal", "title": null, "symbolType": "square", "symbolSize": 1600, "symbolOpacity": 0.2, "symbolStrokeWidth": 3, "symbolStrokeColor": "transparent", "labelFontSize": 21.5, "labelOpacity": 0, "labelOffset": 17, "columnPadding": 10, "padding": 0}}
             }},
            {"mark": {"type": "area", "opacity": 0.2},
             "encoding": {
               "y": {"field": "fl", "type": "quantitative", "scale": {"domain": [-0.52, 12.34], "nice": false, "zero": false}, "axis": {"title": null, "values": [0,1.5,3,4.5,6,7.5,9,10.5,12], "grid": true, "gridColor": "#ebebeb", "gridWidth": 1.1, "gridOpacity": {"condition": {"test": "datum.value % 3 === 0", "value": 0}, "value": 1}, "tickOpacity": {"condition": {"test": "datum.value % 3 !== 0", "value": 0}, "value": 1}, "labelExpr": "datum.value % 3 === 0 ? format(datum.value, 'd') : ''"}},
               "y2": {"field": "fh"},
               "fill": {"datum": "Foreign", "type": "nominal", "scale": {"range": ["#0d0887","#bf3390","#f68d45"]}, "legend": {"orient": "none", "legendX": 418, "legendY": -55, "direction": "horizontal", "title": null, "symbolType": "square", "symbolSize": 1600, "symbolOpacity": 0.2, "symbolStrokeWidth": 3, "symbolStrokeColor": "transparent", "labelFontSize": 21.5, "labelOpacity": 0, "labelOffset": 17, "columnPadding": 10, "padding": 0}}
             }},
            {"mark": {"type": "area", "opacity": 0.2},
             "encoding": {
               "y": {"field": "sl", "type": "quantitative", "scale": {"domain": [-0.52, 12.34], "nice": false, "zero": false}, "axis": {"title": null, "values": [0,1.5,3,4.5,6,7.5,9,10.5,12], "grid": true, "gridColor": "#ebebeb", "gridWidth": 1.1, "gridOpacity": {"condition": {"test": "datum.value % 3 === 0", "value": 0}, "value": 1}, "tickOpacity": {"condition": {"test": "datum.value % 3 !== 0", "value": 0}, "value": 1}, "labelExpr": "datum.value % 3 === 0 ? format(datum.value, 'd') : ''"}},
               "y2": {"field": "sh"},
               "fill": {"datum": "Sum", "type": "nominal", "scale": {"range": ["#0d0887","#bf3390","#f68d45"]}, "legend": {"orient": "none", "legendX": 418, "legendY": -55, "direction": "horizontal", "title": null, "symbolType": "square", "symbolSize": 1600, "symbolOpacity": 0.2, "symbolStrokeWidth": 3, "symbolStrokeColor": "transparent", "labelFontSize": 21.5, "labelOpacity": 0, "labelOffset": 17, "columnPadding": 10, "padding": 0}}
             }},
            {"mark": {"type": "line", "strokeWidth": 2.6, "strokeJoin": "round"},
             "encoding": {
               "y": {"field": "d", "type": "quantitative", "scale": {"domain": [-0.52, 12.34], "nice": false, "zero": false}, "axis": {"title": null, "values": [0,1.5,3,4.5,6,7.5,9,10.5,12], "grid": true, "gridColor": "#ebebeb", "gridWidth": 1.1, "gridOpacity": {"condition": {"test": "datum.value % 3 === 0", "value": 0}, "value": 1}, "tickOpacity": {"condition": {"test": "datum.value % 3 !== 0", "value": 0}, "value": 1}, "labelExpr": "datum.value % 3 === 0 ? format(datum.value, 'd') : ''"}},
               "stroke": {"datum": "Domestic", "type": "nominal", "scale": {"domain": ["Domestic","Foreign","Sum"], "range": ["#0d0887","#bf3390","#f68d45"]}, "legend": {"orient": "none", "legendX": 418, "legendY": -55, "direction": "horizontal", "title": null, "symbolType": "stroke", "symbolSize": 1600, "symbolStrokeWidth": 3, "labelFontSize": 21.5, "labelColor": "#000000", "labelOffset": 17, "columnPadding": 10, "padding": 0}}
             }},
            {"mark": {"type": "line", "strokeWidth": 2.6, "strokeJoin": "round"},
             "encoding": {
               "y": {"field": "f", "type": "quantitative", "scale": {"domain": [-0.52, 12.34], "nice": false, "zero": false}, "axis": {"title": null, "values": [0,1.5,3,4.5,6,7.5,9,10.5,12], "grid": true, "gridColor": "#ebebeb", "gridWidth": 1.1, "gridOpacity": {"condition": {"test": "datum.value % 3 === 0", "value": 0}, "value": 1}, "tickOpacity": {"condition": {"test": "datum.value % 3 !== 0", "value": 0}, "value": 1}, "labelExpr": "datum.value % 3 === 0 ? format(datum.value, 'd') : ''"}},
               "stroke": {"datum": "Foreign", "type": "nominal", "scale": {"domain": ["Domestic","Foreign","Sum"], "range": ["#0d0887","#bf3390","#f68d45"]}, "legend": {"orient": "none", "legendX": 418, "legendY": -55, "direction": "horizontal", "title": null, "symbolType": "stroke", "symbolSize": 1600, "symbolStrokeWidth": 3, "labelFontSize": 21.5, "labelColor": "#000000", "labelOffset": 17, "columnPadding": 10, "padding": 0}}
             }},
            {"mark": {"type": "line", "strokeWidth": 2.6, "strokeJoin": "round"},
             "encoding": {
               "y": {"field": "s", "type": "quantitative", "scale": {"domain": [-0.52, 12.34], "nice": false, "zero": false}, "axis": {"title": null, "values": [0,1.5,3,4.5,6,7.5,9,10.5,12], "grid": true, "gridColor": "#ebebeb", "gridWidth": 1.1, "gridOpacity": {"condition": {"test": "datum.value % 3 === 0", "value": 0}, "value": 1}, "tickOpacity": {"condition": {"test": "datum.value % 3 !== 0", "value": 0}, "value": 1}, "labelExpr": "datum.value % 3 === 0 ? format(datum.value, 'd') : ''"}},
               "stroke": {"datum": "Sum", "type": "nominal", "scale": {"domain": ["Domestic","Foreign","Sum"], "range": ["#0d0887","#bf3390","#f68d45"]}, "legend": {"orient": "none", "legendX": 418, "legendY": -55, "direction": "horizontal", "title": null, "symbolType": "stroke", "symbolSize": 1600, "symbolStrokeWidth": 3, "labelFontSize": 21.5, "labelColor": "#000000", "labelOffset": 17, "columnPadding": 10, "padding": 0}}
             }}
          ]
        }
      },
      {
        "data": {"values": [{"r":"cor = 0.8"},{"r":"cor = 0.9"}]},
        "facet": {"row": {"field": "r", "type": "nominal", "sort": ["cor = 0.8","cor = 0.9"], "header": {"title": null, "labels": false}}},
        "spacing": 14,
        "spec": {
          "width": 43, "height": 239,
          "view": {"fill": "#d9d9d9", "stroke": "#333333"},
          "mark": {"type": "text", "fontSize": 20, "color": "#1a1a1a", "angle": 90},
          "encoding": {"text": {"field": "r", "type": "nominal"}}
        }
      }
    ]
  }
]
}
